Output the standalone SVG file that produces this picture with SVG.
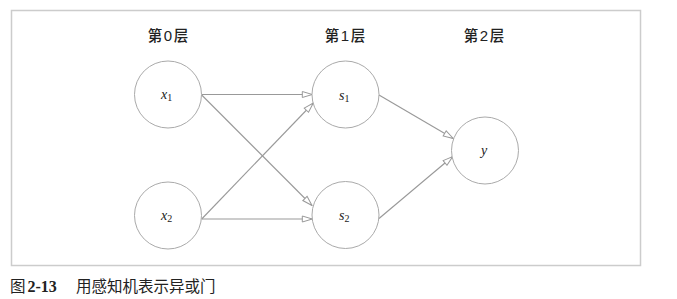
<svg xmlns="http://www.w3.org/2000/svg" width="677" height="299" viewBox="0 0 677 299">
<style>
.node{fill:#fff;stroke:#aaa;stroke-width:1}
.edge{stroke:#999;stroke-width:1.1;fill:none;marker-end:url(#arr)}
.lbl{font-family:"Liberation Serif",serif;font-style:italic;font-size:14px;fill:#222}
.sub{font-family:"Liberation Serif",serif;font-size:10px;fill:#222;font-style:normal}
.hdr{font-family:"Noto Sans CJK SC","Liberation Sans",sans-serif;font-size:14.5px;fill:#222;font-weight:500}
.num{font-family:"Liberation Sans",sans-serif;font-size:15px}
.cap{font-family:"Noto Sans CJK SC",sans-serif;font-size:15.5px;fill:#222}
</style>
<defs>
<marker id="arr" markerWidth="12" markerHeight="8" refX="11" refY="4" orient="auto" markerUnits="userSpaceOnUse">
<path d="M1,1 L11,4 L1,7 Z" fill="#fff" stroke="#999" stroke-width="1"/>
</marker>
</defs>
<rect x="11.5" y="10.5" width="629" height="255" fill="none" stroke="#ccc" stroke-width="1.5"/>
<text class="hdr" x="168" y="41" text-anchor="middle">第<tspan class="num" dx="1.5">0</tspan><tspan dx="1.5">层</tspan></text>
<text class="hdr" x="345" y="41" text-anchor="middle">第<tspan class="num" dx="1.5">1</tspan><tspan dx="1.5">层</tspan></text>
<text class="hdr" x="484" y="41" text-anchor="middle">第<tspan class="num" dx="1.5">2</tspan><tspan dx="1.5">层</tspan></text>
<g id="connectors">
<line class="edge" x1="201.7" y1="94.5" x2="312.3" y2="94.5"/>
<line class="edge" x1="201.7" y1="95" x2="312" y2="205.5"/>
<line class="edge" x1="201.7" y1="219" x2="313.3" y2="103"/>
<line class="edge" x1="201.7" y1="219" x2="312.3" y2="219"/>
<line class="edge" x1="379" y1="95" x2="453.3" y2="138.5"/>
<line class="edge" x1="379" y1="218.5" x2="452.7" y2="156.5"/>
</g>
<g id="x1"><circle class="node" cx="168" cy="94.5" r="33.5"/><text class="lbl" x="161" y="99">x<tspan class="sub" dy="2">1</tspan></text></g>
<g id="x2"><circle class="node" cx="168" cy="215.5" r="33.5"/><text class="lbl" x="161" y="220">x<tspan class="sub" dy="2">2</tspan></text></g>
<g id="s1"><circle class="node" cx="345.5" cy="94.5" r="33.5"/><text class="lbl" x="339" y="100">s<tspan class="sub" dy="2">1</tspan></text></g>
<g id="s2"><circle class="node" cx="345.5" cy="215" r="33.5"/><text class="lbl" x="339" y="220">s<tspan class="sub" dy="2">2</tspan></text></g>
<g id="y"><circle class="node" cx="485" cy="150.5" r="33.5"/><text class="lbl" x="481" y="155">y</text></g>
<text x="10" y="292" class="cap">图<tspan font-family="Liberation Serif,serif" font-weight="bold" font-size="16" dx="2">2-13</tspan><tspan x="76">用感知机表示异或门</tspan></text>
</svg>
